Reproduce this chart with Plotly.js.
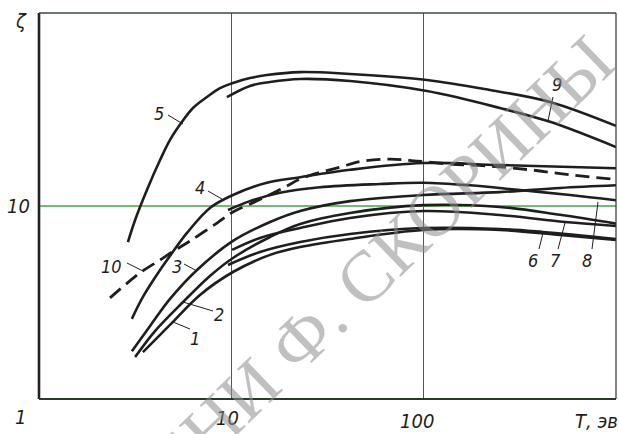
<!DOCTYPE html>
<html>
<head>
<meta charset="utf-8">
<script src="https://cdn.plot.ly/plotly-3.0.1.min.js"></script>
<style>html,body{margin:0;padding:0;background:#fff;}#chart{width:619px;height:434px;}</style>
</head>
<body>
<div id="chart"></div>
<script>
// ---- data (T in eV, zeta) ----
const T1 = [3.47, 4.26, 4.97, 6.87, 10.2, 15.9, 22.8, 41.4, 99.3, 249, 512, 1000];
const Z1 = [1.75, 2.15, 2.51, 3.46, 4.55, 5.58, 6.13, 6.75, 7.51, 7.51, 7.07, 6.67];
const T2 = [3.16, 4.01, 5.61, 7.74, 10.2, 15.9, 22.8, 41.4, 99.3, 249, 512, 1000];
const Z2 = [1.65, 2.25, 3.18, 4.34, 5.38, 6.91, 8.07, 9.20, 10.1, 9.89, 9.0, 8.1];
const T3 = [3.04, 3.78, 4.80, 6.63, 10.2, 15.9, 22.8, 41.4, 99.3, 249, 512, 1000];
const Z3 = [1.77, 2.39, 3.30, 4.66, 6.59, 8.26, 9.42, 10.6, 11.4, 11.8, 12.4, 12.8];
const T4 = [3.04, 3.47, 4.26, 4.92, 5.88, 7.74, 10.2, 15.3, 22.8, 41.4, 99.3, 249, 1000];
const Z4 = [2.60, 3.38, 4.66, 5.71, 7.25, 9.77, 11.4, 13.2, 14.1, 15.4, 16.7, 16.3, 15.7];
const T5 = [2.9, 3.16, 3.64, 4.26, 4.80, 5.54, 6.32, 7.47, 8.73, 10.2, 12.5, 15.3, 22.8, 41.4, 104, 221, 454, 1000];
const Z5 = [6.5, 8.46, 12.1, 17.3, 22.0, 27.3, 32.2, 36.7, 40.8, 43.4, 46.0, 47.7, 49.4, 48.3, 45.0, 39.9, 34.6, 26.0];
const T6 = [9.61, 14.1, 22.8, 41.4, 99.3, 249, 417, 1000];
const Z6 = [4.95, 5.78, 6.51, 7.16, 7.69, 7.60, 7.33, 6.75];
const T7 = [10.1, 14.1, 22.8, 41.4, 99.3, 249, 543, 1000];
const Z7 = [5.92, 6.83, 7.69, 8.67, 9.42, 8.98, 8.26, 7.88];
const T8 = [9.61, 12.5, 17.9, 28.9, 59.3, 99.3, 174, 317, 577, 1000];
const Z8 = [9.53, 10.6, 11.7, 12.5, 13.0, 13.2, 12.8, 12.1, 11.4, 10.7];
const T9 = [9.49, 12.5, 15.9, 22.8, 41.4, 104, 249, 454, 1000];
const Z9 = [36.7, 41.9, 43.9, 45.5, 44.4, 39.4, 32.2, 27.3, 20.2];
const T10 = [2.34, 3.35, 4.26, 4.92, 6.10, 8.42, 10.2, 13.8, 18.6, 23.6, 36.7, 48.4, 66.8, 92.3, 137, 221, 357, 577, 953];
const Z10 = [3.34, 4.50, 5.25, 5.78, 6.59, 8.16, 9.31, 10.7, 12.4, 14.0, 15.9, 17.1, 17.5, 17.1, 16.5, 16.1, 15.4, 14.5, 13.8];

const curveNames = ['1','2','3','4','5','6','7','8','9','10'];
const curveT = [T1,T2,T3,T4,T5,T6,T7,T8,T9,T10];
const curveZ = [Z1,Z2,Z3,Z4,Z5,Z6,Z7,Z8,Z9,Z10];

const xTickLabels = ['1','10','100'];
const yTickLabels = ['10'];
const xTitle = 'Т, эв';
const yTitle = 'ζ';

// ---- layout helpers (pixel -> paper) ----
const W = 619, H = 434, ML = 39, MR = 3, MT = 13, MB = 35;
const PW = W - ML - MR, PH = H - MT - MB;
const px = v => (v - ML) / PW;
const py = v => (H - MB - v) / PH;

const ink = '#1e1e1e';
const FONT = "'Liberation Sans Narrow', 'DejaVu Sans Condensed', 'Liberation Sans', sans-serif";

const traces = curveNames.map((n, i) => ({
  x: curveT[i], y: curveZ[i], type: 'scatter', mode: 'lines', name: n,
  line: {color: ink, width: n === '10' ? 2.8 : 2.6, shape: 'spline', smoothing: 1, dash: n === '10' ? '14px,7px' : 'solid'},
  hoverinfo: 'skip', showlegend: false
}));

// curve labels: [text, textX, textY, lineX0, lineY0, lineX1, lineY1] in pixels
const labelSpec = [
  ['5', 159, 113, 168, 115, 183, 124],
  ['4', 200, 188, 208, 191, 222, 199],
  ['10', 111, 266, 127, 263, 143, 271],
  ['3', 177, 266, 184, 264, 197, 271],
  ['2', 219, 314, 213, 311, 183, 302],
  ['1', 195, 338, 190, 329, 173, 322],
  ['6', 533, 260, 539, 249, 543, 233],
  ['7', 555, 260, 558, 249, 565, 223],
  ['8', 587, 260, 592, 249, 598, 202],
  ['9', 557, 84, 553, 97, 548, 121]
];

const annotations = labelSpec.map(s => ({
  text: s[0], x: px(s[1]), y: py(s[2]), xref: 'paper', yref: 'paper',
  showarrow: false, xanchor: 'center', yanchor: 'middle',
  font: {family: FONT, size: 18, color: ink, style: 'italic'}
}));

const axisText = [
  [yTitle, 21, 21],
  [yTickLabels[0], 18, 206],
  [xTickLabels[0], 20, 417],
  [xTickLabels[1], 227, 418],
  [xTickLabels[2], 417, 421],
  [xTitle, 596, 421]
];
axisText.forEach(s => annotations.push({
  text: s[0], x: px(s[1]), y: py(s[2]), xref: 'paper', yref: 'paper',
  showarrow: false, xanchor: 'center', yanchor: 'middle',
  font: {family: FONT, size: 20, color: ink, style: 'italic'}
}));

// library watermark (cut by the bottom edge, as in the scan)
annotations.push({
  text: 'ИМЕНИ Ф. СКОРИНЫ', x: px(340), y: py(302), xref: 'paper', yref: 'paper',
  showarrow: false, textangle: -44, xanchor: 'center', yanchor: 'middle',
  font: {family: "'Liberation Serif', 'DejaVu Serif', serif", size: 72, color: 'rgba(140,140,140,0.55)'}
});

const shapes = labelSpec.map(s => ({
  type: 'line', xref: 'paper', yref: 'paper',
  x0: px(s[3]), y0: py(s[4]), x1: px(s[5]), y1: py(s[6]),
  line: {color: ink, width: 1}
}));
// frame
shapes.push({type:'line', xref:'paper', yref:'paper', x0:0, x1:0, y0:0, y1:1, line:{color:'#222', width:2.6}});
shapes.push({type:'line', xref:'paper', yref:'paper', x0:0, x1:1, y0:0, y1:0, line:{color:'#2a3a2a', width:2.2}});
shapes.push({type:'line', xref:'paper', yref:'paper', x0:0, x1:1, y0:1, y1:1, line:{color:'#3a4a3a', width:1.5}});
shapes.push({type:'line', xref:'paper', yref:'paper', x0:1, x1:1, y0:0, y1:1, line:{color:'#333', width:1.2}});

const layout = {
  width: W, height: H,
  margin: {l: ML, r: MR, t: MT, b: MB, pad: 0},
  paper_bgcolor: '#ffffff', plot_bgcolor: '#ffffff',
  showlegend: false,
  xaxis: {type: 'log', range: [0, 3], tickvals: [10, 100], showgrid: true, gridcolor: '#555', gridwidth: 1,
          showticklabels: false, ticks: '', zeroline: false, showline: false, fixedrange: true},
  yaxis: {type: 'log', range: [0, 2], tickvals: [10], showgrid: true, gridcolor: 'rgb(110,190,110)', gridwidth: 1.2,
          showticklabels: false, ticks: '', zeroline: false, showline: false, fixedrange: true},
  shapes: shapes,
  annotations: annotations
};

Plotly.newPlot('chart', traces, layout, {staticPlot: true, displayModeBar: false});
</script>
</body>
</html>
